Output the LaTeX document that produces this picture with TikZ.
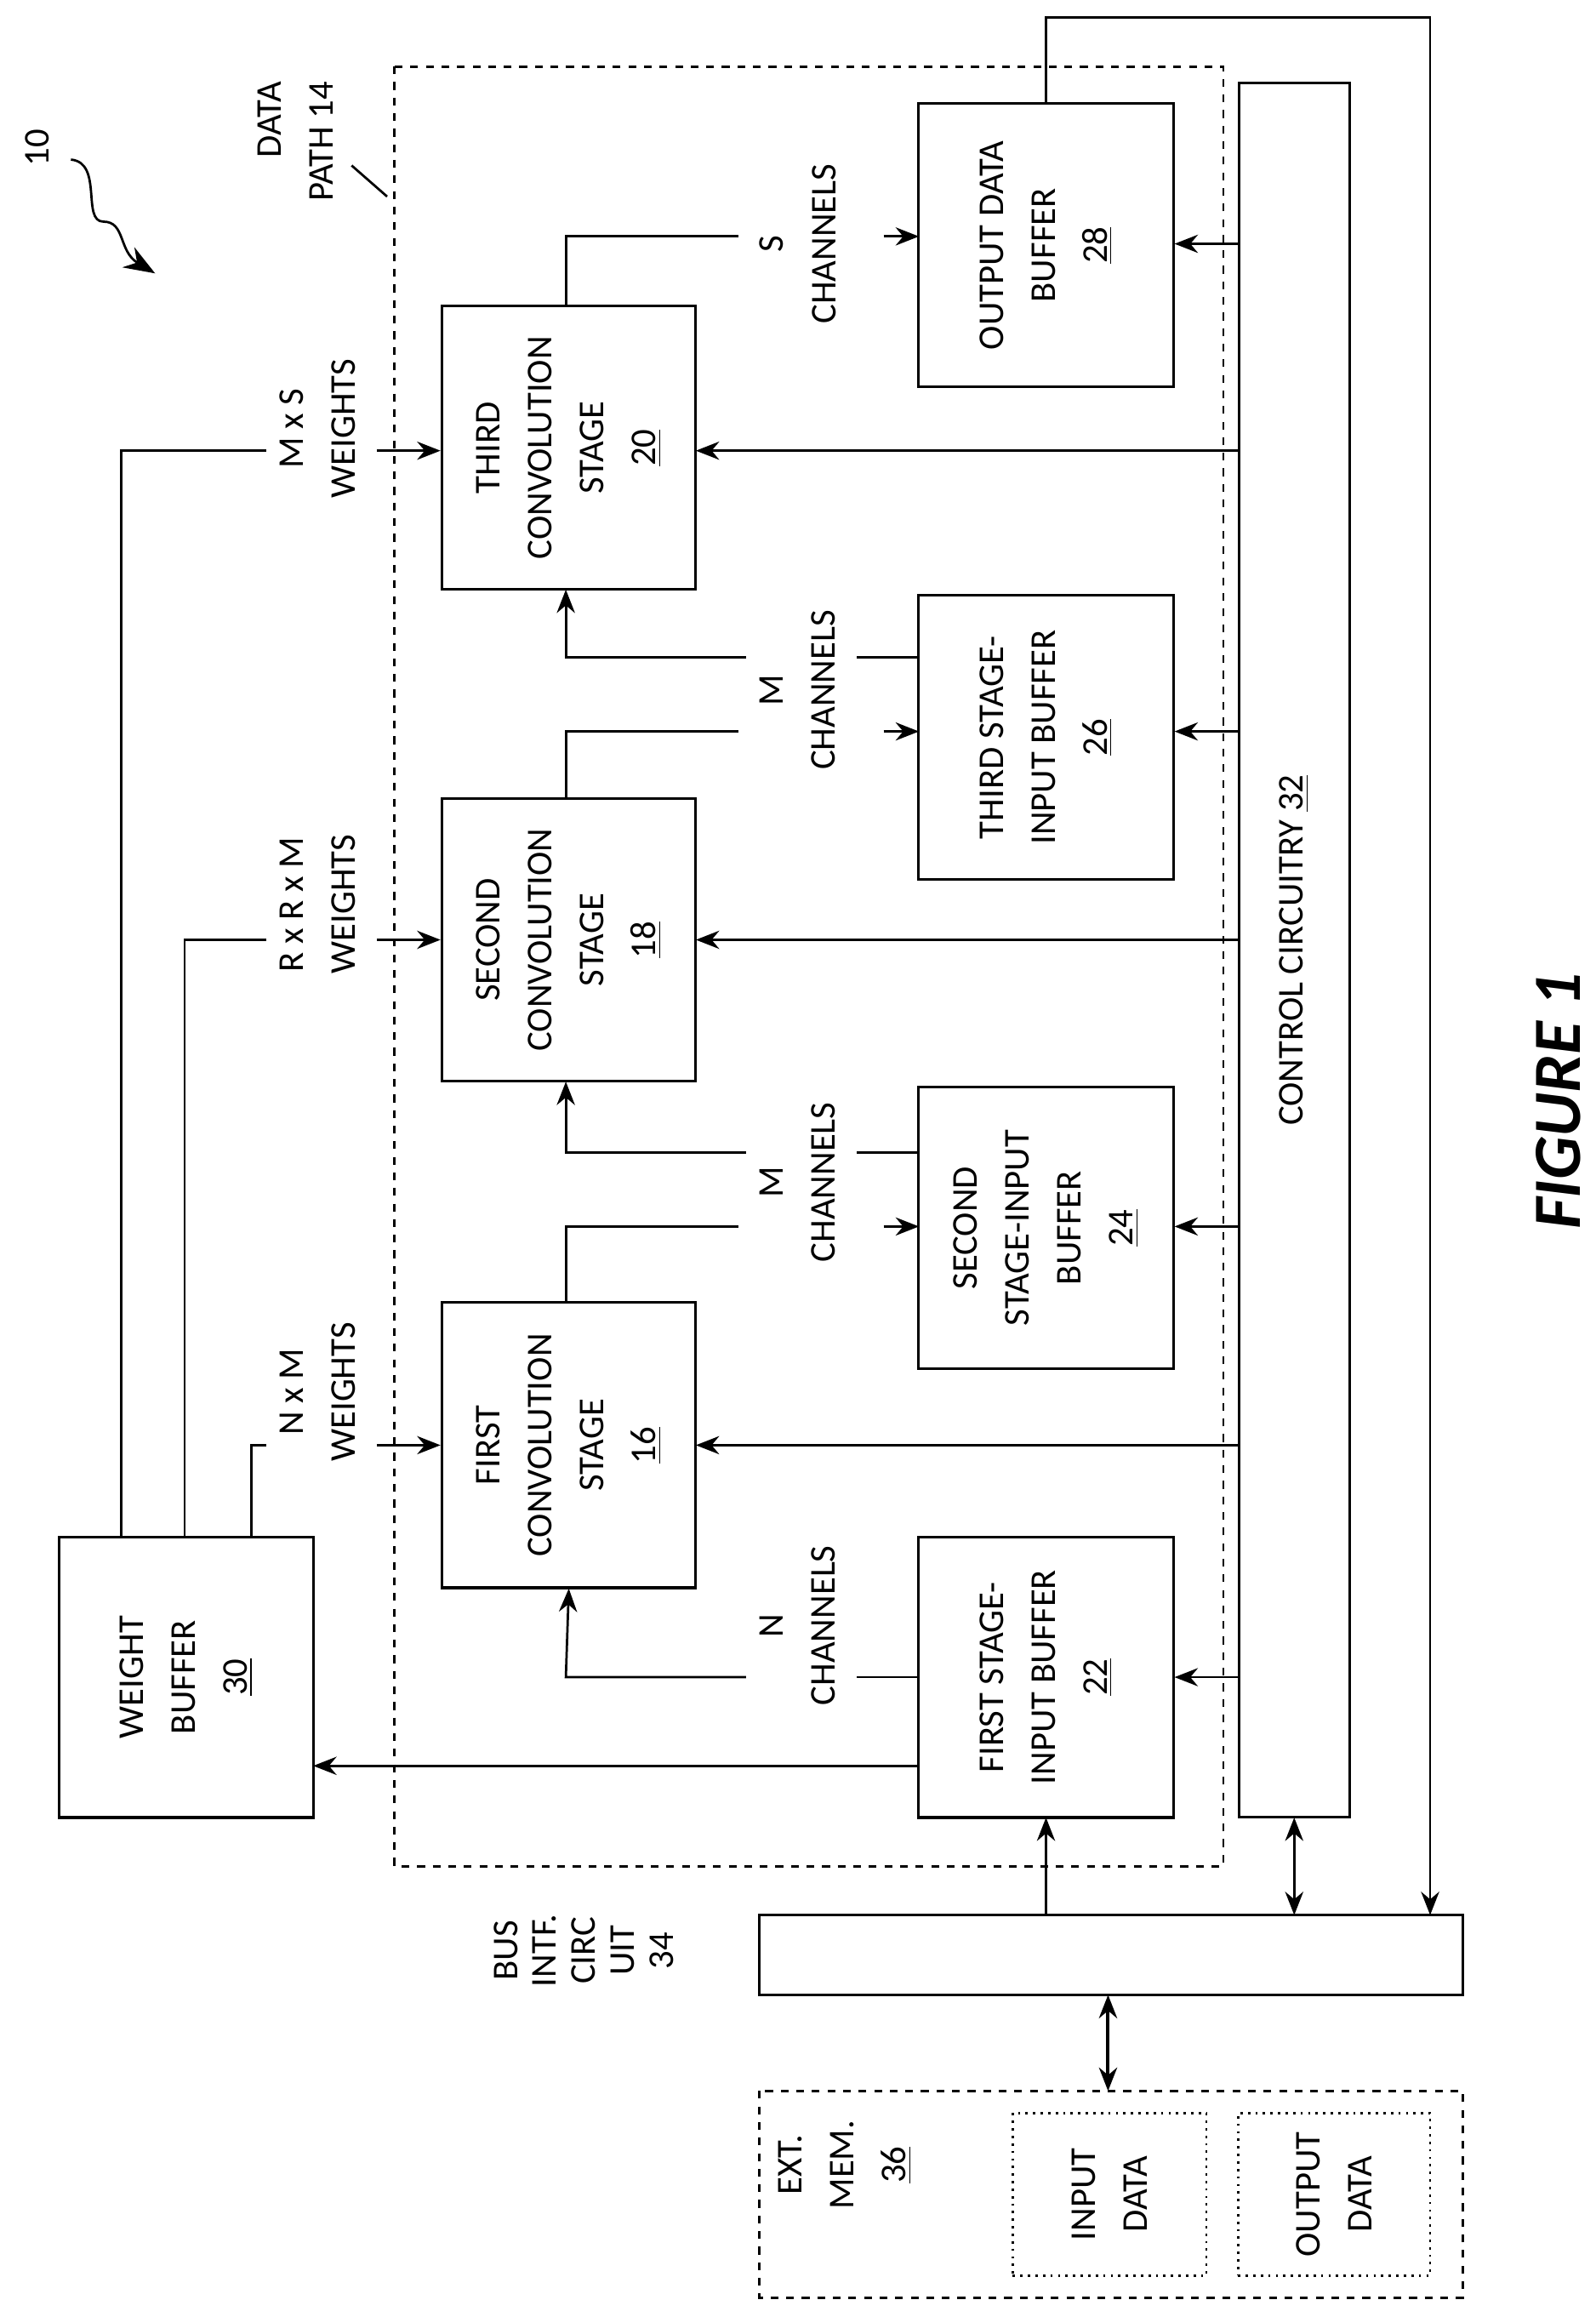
\documentclass[tikz,border=0pt]{standalone}
\usepackage{fontspec}
\setmainfont{Carlito}
\usetikzlibrary{arrows.meta,decorations.pathmorphing}
\begin{document}
\begin{tikzpicture}[x=0.02cm,y=-0.02cm,
  box/.style={draw,line width=1pt},
  lbl/.style={rotate=90,align=center,font=\fontsize{14}{20}\selectfont,inner sep=0pt},
  ar/.style={-{Stealth[length=9pt,width=7pt]},line width=0.9pt},
  ln/.style={line width=0.9pt}]
\useasboundingbox (0,0) rectangle (1080,1568);
% data path
\draw[dashed,line width=0.9pt] (267,45) rectangle (828,1263);
\node[lbl,align=right,anchor=east] (dp) at (200,55) {DATA\\PATH 14};
\draw[ln] (262,133) -- (238,112);
\node[lbl] (ten) at (25,100) {10};
\coordinate (sq1) at (48,108); \coordinate (sq2) at (105,185);
\draw[ln,-{Stealth[length=12pt,width=9pt]}] (sq1) .. controls (70,110) and (55,150) .. (70,150) .. controls (85,150) and (80,170) .. (sq2);
% stages
\node[box,minimum width=3.44cm,minimum height=3.84cm] (s3) at (385,303) {};
\node[lbl] at (s3) {THIRD\\CONVOLUTION\\STAGE\\\underline{20}};
\node[box,minimum width=3.44cm,minimum height=3.82cm] (s2) at (385,636) {};
\node[lbl] at (s2) {SECOND\\CONVOLUTION\\STAGE\\\underline{18}};
\node[box,minimum width=3.44cm,minimum height=3.86cm] (s1) at (385,978) {};
\node[lbl] at (s1) {FIRST\\CONVOLUTION\\STAGE\\\underline{16}};
% buffers
\node[box,minimum width=3.46cm,minimum height=3.84cm] (b4) at (708,166) {};
\node[lbl] at (b4) {OUTPUT DATA\\BUFFER\\\underline{28}};
\node[box,minimum width=3.46cm,minimum height=3.84cm] (b3) at (708,499) {};
\node[lbl] at (b3) {THIRD STAGE-\\INPUT BUFFER\\\underline{26}};
\node[box,minimum width=3.46cm,minimum height=3.82cm] (b2) at (708,831) {};
\node[lbl] at (b2) {SECOND\\STAGE-INPUT\\BUFFER\\\underline{24}};
\node[box,minimum width=3.46cm,minimum height=3.8cm] (b1) at (708,1135) {};
\node[lbl] at (b1) {FIRST STAGE-\\INPUT BUFFER\\\underline{22}};
% control
\node[box,minimum width=1.5cm,minimum height=23.48cm] (cc) at (876,643) {};
\node[lbl] at (cc) {CONTROL CIRCUITRY \underline{32}};
% weight buffer
\node[box,minimum width=3.44cm,minimum height=3.8cm] (wb) at (126,1135) {};
\node[lbl] at (wb) {WEIGHT\\BUFFER\\\underline{30}};
% bus
\node[box,minimum width=9.52cm,minimum height=1.08cm] (bus) at (752,1323) {};
\node[lbl,font=\fontsize{14}{15}\selectfont] (busl) at (395,1320) {BUS\\INTF.\\CIRC\\UIT\\34};
% ext mem
\draw[dashed,line width=0.9pt] (514,1415) rectangle (990,1555);
\node[lbl] (em) at (572,1465) {EXT.\\MEM.\\\underline{36}};
\node[draw,dotted,line width=0.9pt,minimum width=2.62cm,minimum height=2.2cm] (ind) at (751,1485) {};
\node[lbl] at (ind) {INPUT\\DATA};
\node[draw,dotted,line width=0.9pt,minimum width=2.6cm,minimum height=2.2cm] (outd) at (903,1485) {};
\node[lbl] at (outd) {OUTPUT\\DATA};
% weights connections
\node[lbl] (w3) at (215,290) {M x S\\WEIGHTS};
\node[lbl] (w2) at (215,612) {R x R x M\\WEIGHTS};
\node[lbl] (w1) at (215,942) {N x M\\WEIGHTS};
\draw[ln] (82,1040) -- (82,305) -- (180,305);
\draw[ar] (255,305) -- (s3.west|-0,305);
\draw[ln] (125,1040) -- (125,636) -- (180,636);
\draw[ar] (255,636) -- (s2.west|-0,636);
\draw[ln] (170,1040) -- (170,978) -- (180,978);
\draw[ar] (255,978) -- (s1.west|-0,978);
% channel labels
\node[lbl] (c1) at (540,1100) {N\\CHANNELS};
\node[lbl] (c2) at (540,800) {M\\CHANNELS};
\node[lbl] (c3) at (540,467) {M\\CHANNELS};
\node[lbl] (c4) at (540,165) {S\\CHANNELS};
% buffer->stage
\draw[ln] (622,1135) -- (580,1135);
\draw[ar] (505,1135) -- (383,1135) -- (s1.south|-0,1075);
\draw[ln] (622,780) -- (580,780);
\draw[ar] (505,780) -- (383,780) -- (383,732);
\draw[ln] (622,445) -- (580,445);
\draw[ar] (505,445) -- (383,445) -- (383,399);
% stage->buffer
\draw[ln] (383,882) -- (383,830) -- (500,830);
\draw[ar] (598,830) -- (622,830);
\draw[ln] (383,541) -- (383,495) -- (500,495);
\draw[ar] (598,495) -- (622,495);
\draw[ln] (383,207) -- (383,160) -- (500,160);
\draw[ar] (598,160) -- (622,160);
% control arrows
\draw[ar] (839,305) -- (471,305);
\draw[ar] (839,636) -- (471,636);
\draw[ar] (839,978) -- (471,978);
\draw[ar] (839,165) -- (795,165);
\draw[ar] (839,495) -- (795,495);
\draw[ar] (839,830) -- (795,830);
\draw[ar] (839,1135) -- (795,1135);
% others
\draw[ar] (622,1195) -- (212,1195);
\draw[ar] (708,1296) -- (708,1230);
\draw[{Stealth[length=9pt,width=7pt]}-{Stealth[length=9pt,width=7pt]},line width=0.9pt] (876,1230) -- (876,1296);
\draw[ar] (708,70) -- (708,12) -- (968,12) -- (968,1296);
\draw[{Stealth[length=9pt,width=7pt]}-{Stealth[length=9pt,width=7pt]},line width=1.3pt] (750,1350) -- (750,1415);
\node[rotate=90,font=\fontsize{26}{30}\selectfont\bfseries\itshape] (fig) at (1055,745) {FIGURE 1};
\end{tikzpicture}
\end{document}
